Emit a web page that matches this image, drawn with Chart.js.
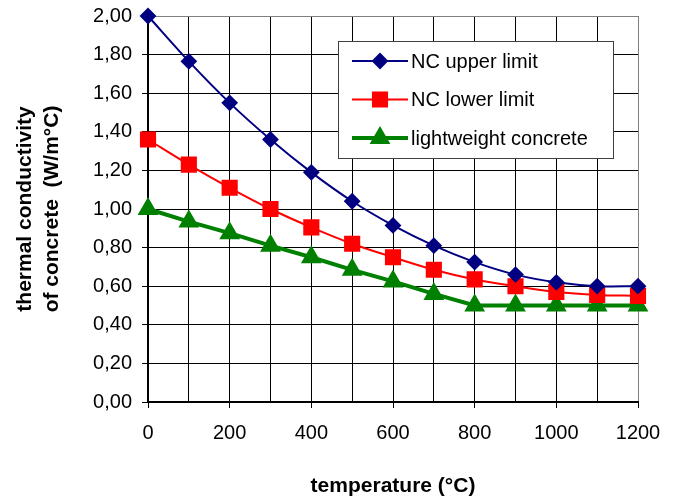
<!DOCTYPE html>
<html>
<head>
<meta charset="utf-8">
<script src="https://cdn.jsdelivr.net/npm/chart.js@4/dist/chart.umd.min.js"></script>
<style>
  html, body { margin: 0; padding: 0; background: #fff; }
  #wrap { width: 677px; height: 500px; }
</style>
</head>
<body>
<div id="wrap"><canvas id="chart" width="677" height="500"></canvas></div>
<script>
// temperature (°C)
const temps = [0, 100, 200, 300, 400, 500, 600, 700, 800, 900, 1000, 1100, 1200];

// thermal conductivity (W/m°C)
const ncUpper = [2.00, 1.765, 1.55, 1.36, 1.19, 1.04, 0.915, 0.81, 0.725, 0.66, 0.62, 0.60, 0.60];
const ncLower = [1.36, 1.23, 1.11, 1.00, 0.905, 0.82, 0.75, 0.685, 0.635, 0.60, 0.57, 0.555, 0.55];
const lightweight = [1.00, 0.935, 0.875, 0.81, 0.75, 0.685, 0.625, 0.56, 0.50, 0.50, 0.50, 0.50, 0.50];

const seriesNames = ["NC upper limit", "NC lower limit", "lightweight concrete"];

const FONT = "'Liberation Sans', Arial, sans-serif";

function toPoints(values) {
  return temps.map((t, i) => ({ x: t, y: values[i] }));
}

// legend drawn inside the plot, like the spreadsheet one
const boxLegend = {
  id: "boxLegend",
  afterDraw(chart, args, opts) {
    const ctx = chart.ctx;
    ctx.save();
    ctx.fillStyle = "#ffffff";
    ctx.fillRect(opts.left, opts.top, opts.width, opts.height);
    ctx.strokeStyle = "#404040";
    ctx.lineWidth = 1;
    ctx.strokeRect(opts.left + 0.5, opts.top + 0.5, opts.width, opts.height);
    ctx.font = "20px " + FONT;
    ctx.textBaseline = "middle";
    chart.data.datasets.forEach((ds, i) => {
      const y = opts.top + opts.firstRow + i * opts.rowGap;
      ctx.strokeStyle = ds.borderColor;
      ctx.lineWidth = ds.borderWidth;
      ctx.beginPath();
      ctx.moveTo(opts.left + 14, y);
      ctx.lineTo(opts.left + 70, y);
      ctx.stroke();
      ctx.fillStyle = ds.pointBackgroundColor;
      ctx.strokeStyle = ds.pointBorderColor;
      Chart.helpers.drawPoint(ctx, {
        pointStyle: ds.pointStyle,
        radius: ds.pointRadius,
        rotation: 0,
        borderWidth: 1
      }, opts.left + 42, y);
      ctx.fillStyle = "#000000";
      ctx.fillText(ds.label, opts.left + 73, y + 1);
    });
    ctx.restore();
  }
};

new Chart(document.getElementById("chart"), {
  type: "line",
  data: {
    datasets: [
      {
        label: seriesNames[0],
        data: toPoints(ncUpper),
        borderColor: "#000080",
        pointBackgroundColor: "#000080",
        pointBorderColor: "#000080",
        borderWidth: 2,
        pointStyle: "rectRot",
        pointRadius: 7,
        tension: 0.35,
        clip: false
      },
      {
        label: seriesNames[1],
        data: toPoints(ncLower),
        borderColor: "#ff0000",
        pointBackgroundColor: "#ff0000",
        pointBorderColor: "#ff0000",
        borderWidth: 2,
        pointStyle: "rect",
        pointRadius: 10,
        tension: 0.35,
        clip: false
      },
      {
        label: seriesNames[2],
        data: toPoints(lightweight),
        borderColor: "#008000",
        pointBackgroundColor: "#008000",
        pointBorderColor: "#008000",
        borderWidth: 4,
        pointStyle: "triangle",
        pointRadius: 8,
        tension: 0,
        clip: false
      }
    ]
  },
  options: {
    responsive: false,
    animation: false,
    layout: { padding: { left: 0, right: 39, top: 16, bottom: 0 } },
    plugins: {
      legend: { display: false },
      tooltip: { enabled: false },
      boxLegend: { left: 338, top: 41, width: 275, height: 117, firstRow: 20, rowGap: 38.5 }
    },
    scales: {
      x: {
        type: "linear",
        min: 0,
        max: 1200,
        afterFit(scale) { scale.height = 98; },
        ticks: {
          stepSize: 100,
          autoSkip: false,
          maxRotation: 0,
          color: "#000000",
          font: { family: FONT, size: 20 },
          padding: 13,
          callback: (v) => (v % 200 === 0 ? String(v) : "")
        },
        grid: {
          color: (c) => (c.tick && c.tick.value === 1200 ? "#808080" : "#000000"),
          tickColor: (c) => (c.tick && c.tick.value % 200 === 0 ? "#000000" : "rgba(0,0,0,0)"),
          tickLength: 6,
          lineWidth: 1
        },
        border: { color: "#000000", width: 2 },
        title: {
          display: true,
          text: "temperature (°C)",
          color: "#000000",
          font: { family: FONT, size: 21, weight: "bold" },
          padding: { top: 0, bottom: 1 }
        }
      },
      y: {
        min: 0,
        max: 2,
        afterFit(scale) {
          scale.width = 148;
          // let the layout padding alone decide where the plot starts
          scale.paddingTop = 0;
          scale.paddingBottom = 0;
        },
        ticks: {
          stepSize: 0.2,
          color: "#000000",
          font: { family: FONT, size: 20 },
          padding: 10,
          callback: (v) => v.toFixed(2).replace(".", ",")
        },
        grid: {
          color: (c) => (c.tick && Math.abs(c.tick.value - 2) < 1e-6 ? "#808080" : "#000000"),
          tickLength: 6,
          lineWidth: 1
        },
        border: { color: "#000000", width: 2 },
        title: {
          display: true,
          text: ["thermal conductivity", "of concrete  (W/m°C)"],
          color: "#000000",
          font: { family: FONT, size: 21, weight: "bold", lineHeight: 1.29 },
          padding: { top: 12, bottom: 0 }
        }
      }
    }
  },
  plugins: [boxLegend]
});
</script>
</body>
</html>
